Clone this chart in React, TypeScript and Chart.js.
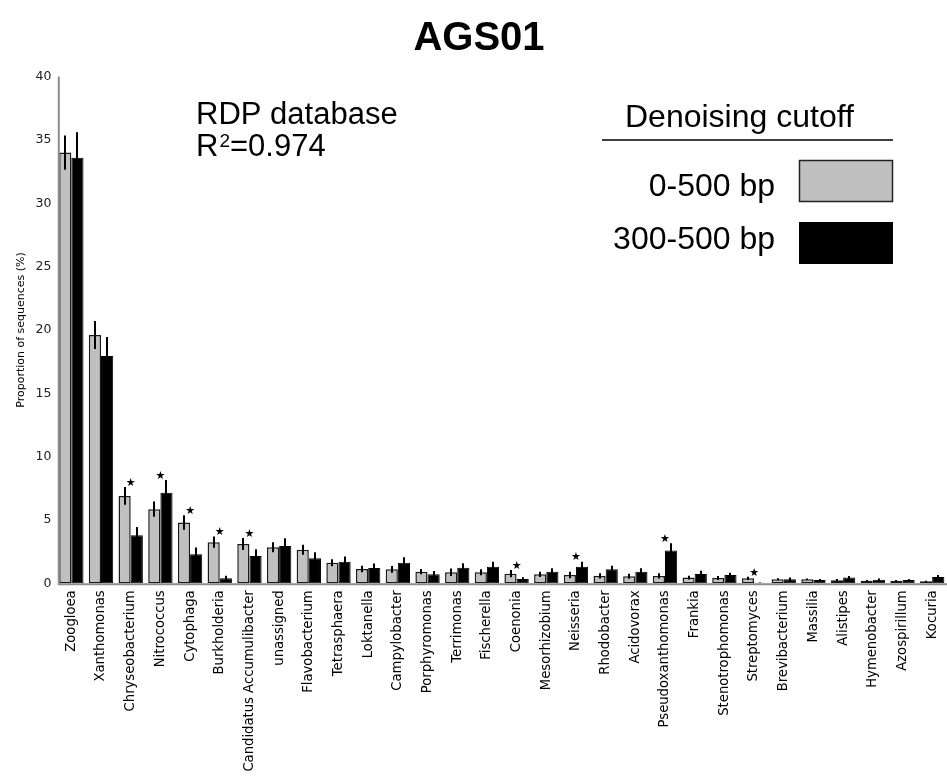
import React, { useEffect, useRef } from 'react';
import { Chart, registerables } from 'chart.js';

Chart.register(...registerables);

const categories = [
  'Zoogloea', 'Xanthomonas', 'Chryseobacterium', 'Nitrococcus', 'Cytophaga', 'Burkholderia',
  'Candidatus Accumulibacter', 'unassigned', 'Flavobacterium', 'Tetrasphaera', 'Loktanella',
  'Campylobacter', 'Porphyromonas', 'Terrimonas', 'Fischerella', 'Coenonia', 'Mesorhizobium',
  'Neisseria', 'Rhodobacter', 'Acidovorax', 'Pseudoxanthomonas', 'Frankia', 'Stenotrophomonas',
  'Streptomyces', 'Brevibacterium', 'Massilia', 'Alistipes', 'Hymenobacter', 'Azospirillum', 'Kocuria',
];

// 0-500 bp
const allValues = [
  34.0, 19.6, 6.9, 5.85, 4.8, 3.25, 3.1, 2.85, 2.65, 1.62, 1.13, 1.1, 0.92, 0.87, 0.87,
  0.76, 0.71, 0.66, 0.58, 0.55, 0.58, 0.45, 0.42, 0.39, 0.32, 0.32, 0.24, 0.21, 0.21, 0.16,
];
const allErrors = [
  1.35, 1.1, 0.7, 0.6, 0.58, 0.45, 0.47, 0.4, 0.4, 0.27, 0.26, 0.27, 0.21, 0.3, 0.23,
  0.29, 0.21, 0.26, 0.21, 0.2, 0.21, 0.15, 0.16, 0.13, 0.07, 0.06, 0.1, 0.06, 0.06, 0.05,
];

// 300-500 bp
const longValues = [
  33.6, 17.95, 3.8, 7.15, 2.3, 0.39, 2.15, 2.95, 1.97, 1.71, 1.2, 1.63, 0.71, 1.23, 1.31,
  0.34, 0.92, 1.31, 1.1, 0.92, 2.58, 0.73, 0.66, 0.05, 0.32, 0.26, 0.45, 0.29, 0.26, 0.5,
];
const longErrors = [
  2.0, 1.5, 0.65, 1.0, 0.53, 0.2, 0.53, 0.6, 0.48, 0.4, 0.36, 0.42, 0.26, 0.35, 0.4,
  0.13, 0.26, 0.4, 0.29, 0.26, 0.58, 0.27, 0.18, 0.02, 0.13, 0.08, 0.13, 0.08, 0.08, 0.16,
];

const significant = [
  'Chryseobacterium', 'Nitrococcus', 'Cytophaga', 'Burkholderia', 'Candidatus Accumulibacter',
  'Coenonia', 'Neisseria', 'Pseudoxanthomonas', 'Streptomyces',
];

const seriesLabels = ['0-500 bp', '300-500 bp'];
const yTicks = [0, 5, 10, 15, 20, 25, 30, 35, 40];

const chartTitle = 'AGS01';
const yAxisTitle = 'Proportion of sequences (%)';
const noteLine1 = 'RDP database';
const noteR2 = '0.974';
const legendTitle = 'Denoising cutoff';

const GRAY = '#c0c0c0';
const SANS = '"Liberation Sans", Arial, sans-serif';
const TICKFONT = '"DejaVu Sans", Verdana, sans-serif';

const decorPlugin = {
  id: 'decor',
  afterDatasetsDraw(chart: any) {
    const ctx = chart.ctx;
    const y = chart.scales.y;
    const area = chart.chartArea;
    const series: [number, number[], number[]][] = [
      [0, allValues, allErrors],
      [1, longValues, longErrors],
    ];
    ctx.save();
    // error bars
    ctx.strokeStyle = '#000';
    ctx.lineWidth = 2;
    series.forEach(([di, vals, errs]) => {
      const meta = chart.getDatasetMeta(di);
      meta.data.forEach((bar: any, i: number) => {
        const top = y.getPixelForValue(vals[i] + errs[i]);
        const bot = y.getPixelForValue(Math.max(0, vals[i] - errs[i]));
        ctx.beginPath();
        ctx.moveTo(Math.round(bar.x), top);
        ctx.lineTo(Math.round(bar.x), bot);
        ctx.stroke();
      });
    });
    // significance stars
    ctx.fillStyle = '#000';
    ctx.font = `11px ${TICKFONT}`;
    ctx.textAlign = 'center';
    ctx.textBaseline = 'middle';
    const xs = chart.scales.x;
    categories.forEach((c, i) => {
      if (!significant.includes(c)) return;
      const top = Math.max(allValues[i] + allErrors[i], longValues[i] + longErrors[i]);
      const px = xs.getPixelForValue(i);
      ctx.fillText('\u2605', px, y.getPixelForValue(top) - 4);
    });
    // axis lines
    ctx.strokeStyle = '#8c8c8c';
    ctx.lineWidth = 2;
    const ax = area.left + 2.3;
    ctx.beginPath();
    ctx.moveTo(ax, y.getPixelForValue(40));
    ctx.lineTo(ax, area.bottom + 1);
    ctx.lineTo(area.right + 5, area.bottom + 1);
    ctx.stroke();
    ctx.restore();
  },
  afterDraw(chart: any) {
    const ctx = chart.ctx;
    const area = chart.chartArea;
    ctx.save();
    ctx.fillStyle = '#000';
    // title
    ctx.font = `bold 40px ${SANS}`;
    ctx.textAlign = 'center';
    ctx.textBaseline = 'alphabetic';
    ctx.fillText(chartTitle, 479, 50);
    // y axis title
    ctx.save();
    ctx.translate(21, (area.top + area.bottom) / 2);
    ctx.rotate(-Math.PI / 2);
    ctx.font = `11px ${TICKFONT}`;
    ctx.textAlign = 'center';
    ctx.textBaseline = 'middle';
    ctx.fillText(yAxisTitle, 0, 0);
    ctx.restore();
    // note
    ctx.textAlign = 'left';
    ctx.font = `31px ${SANS}`;
    ctx.fillText(noteLine1, 196, 124);
    let xp = 196;
    ctx.fillText('R', xp, 156);
    xp += ctx.measureText('R').width + 1;
    ctx.font = `19px ${SANS}`;
    ctx.fillText('2', xp, 147);
    xp += ctx.measureText('2').width;
    ctx.font = `31px ${SANS}`;
    ctx.fillText('=' + noteR2, xp, 156);
    // legend
    ctx.font = `32px ${SANS}`;
    ctx.fillText(legendTitle, 625, 127);
    ctx.strokeStyle = '#000';
    ctx.lineWidth = 1.5;
    ctx.beginPath();
    ctx.moveTo(602, 140);
    ctx.lineTo(893, 140);
    ctx.stroke();
    ctx.textAlign = 'right';
    ctx.fillText(seriesLabels[0], 775, 196);
    ctx.fillText(seriesLabels[1], 775, 249);
    ctx.fillStyle = GRAY;
    ctx.fillRect(799, 160, 94, 42);
    ctx.strokeStyle = '#222';
    ctx.lineWidth = 1.5;
    ctx.strokeRect(799.5, 160.5, 93, 41);
    ctx.fillStyle = '#000';
    ctx.fillRect(799, 222, 94, 42);
    ctx.restore();
  },
};

export default function App() {
  const ref = useRef<HTMLCanvasElement | null>(null);
  useEffect(() => {
    if (!ref.current) return;
    const chart = new Chart(ref.current, {
      type: 'bar',
      data: {
        labels: categories,
        datasets: [
          {
            label: seriesLabels[0],
            data: allValues,
            backgroundColor: GRAY,
            borderColor: '#1a1a1a',
            borderWidth: 1.5,
            borderSkipped: false,
            categoryPercentage: 0.82,
            barPercentage: 1.0,
          },
          {
            label: seriesLabels[1],
            data: longValues,
            backgroundColor: '#000',
            borderColor: '#000',
            borderWidth: 1,
            borderSkipped: false,
            categoryPercentage: 0.82,
            barPercentage: 1.0,
          },
        ],
      },
      options: {
        responsive: false,
        animation: false,
        devicePixelRatio: 1,
        layout: { padding: { top: 76.6, left: 0, right: -3.5, bottom: 0 } },
        plugins: { legend: { display: false }, title: { display: false }, tooltip: { enabled: false } },
        scales: {
          x: {
            type: 'category',
            offset: true,
            grid: { display: false, drawTicks: false },
            border: { display: false },
            ticks: {
              autoSkip: false,
              minRotation: 90,
              maxRotation: 90,
              padding: 7,
              color: '#000',
              font: { family: TICKFONT, size: 13.2 },
            },
            afterFit: (s: any) => {
              s.height = 777 - 583.3;
              s.paddingLeft = 0;
              s.paddingRight = 0;
            },
          },
          y: {
            min: 0,
            max: 40,
            afterBuildTicks: (s: any) => { s.ticks = yTicks.map((v) => ({ value: v })); },
            grid: { display: false, drawTicks: false },
            border: { display: false },
            ticks: {
              padding: 5,
              color: '#222',
              font: { family: TICKFONT, size: 12.5 },
            },
            afterFit: (s: any) => { s.width = 56.5; },
          },
        },
      },
      plugins: [decorPlugin],
    } as any);
    return () => chart.destroy();
  }, []);
  return (
    <div style={{ position: 'absolute', left: 0, top: 0, width: 947, height: 777, background: '#fff' }}>
      <canvas ref={ref} width={947} height={777} style={{ display: 'block' }} />
    </div>
  );
}
